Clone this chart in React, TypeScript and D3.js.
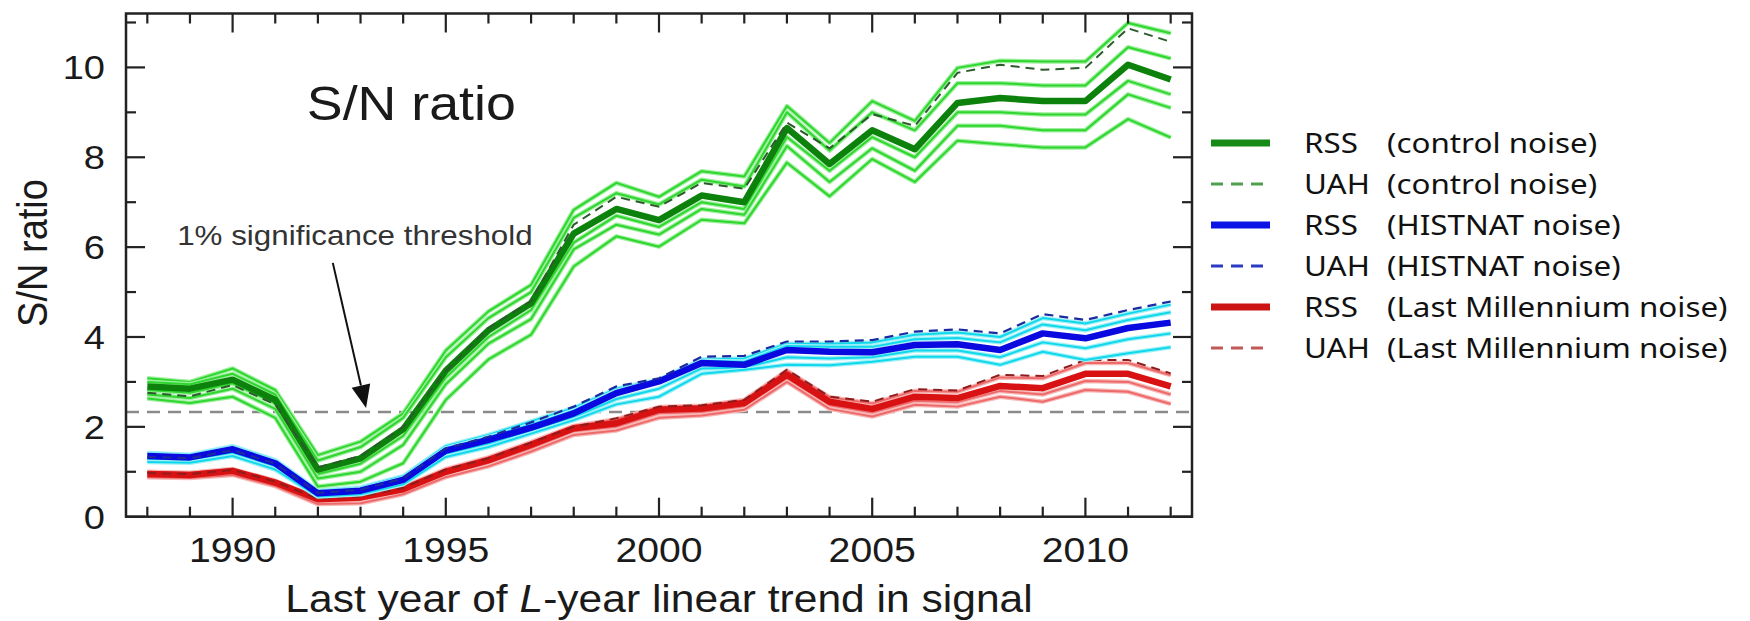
import React from "react";
import * as d3 from "d3";

// S/N ratio vs last year of L-year trend
const years = [1988, 1989, 1990, 1991, 1992, 1993, 1994, 1995, 1996, 1997, 1998, 1999, 2000,
  2001, 2002, 2003, 2004, 2005, 2006, 2007, 2008, 2009, 2010, 2011, 2012];

// control noise
const greenRSS = [2.90, 2.85, 3.05, 2.60, 1.05, 1.30, 1.95, 3.25, 4.15, 4.75, 6.30, 6.85, 6.60, 7.15, 7.00, 8.65, 7.85, 8.60, 8.18, 9.21, 9.32, 9.25, 9.25, 10.06, 9.73];
const greenUAH = [2.76, 2.68, 2.93, 2.50, 1.10, 1.35, 2.00, 3.25, 4.20, 4.80, 6.50, 7.12, 6.90, 7.43, 7.30, 8.77, 8.20, 8.96, 8.70, 9.88, 10.06, 9.95, 9.99, 10.87, 10.57];
const greenEnsA = [3.08, 3.00, 3.30, 2.82, 1.37, 1.67, 2.30, 3.70, 4.57, 5.16, 6.83, 7.43, 7.12, 7.69, 7.57, 9.14, 8.32, 9.25, 8.81, 9.99, 10.15, 10.13, 10.13, 10.99, 10.76];
const greenEnsB = [3.00, 2.95, 3.18, 2.72, 1.25, 1.55, 2.20, 3.55, 4.42, 5.00, 6.65, 7.20, 6.95, 7.50, 7.35, 9.00, 8.15, 9.00, 8.60, 9.65, 9.65, 9.60, 9.60, 10.45, 10.20];
const greenEnsC = [2.82, 2.76, 2.97, 2.52, 0.95, 1.18, 1.80, 3.10, 4.00, 4.60, 6.10, 6.70, 6.45, 7.00, 6.85, 8.45, 7.70, 8.45, 8.00, 9.00, 9.00, 8.95, 8.95, 9.70, 9.40];
const greenEnsD = [2.72, 2.64, 2.85, 2.40, 0.85, 1.00, 1.60, 2.95, 3.85, 4.40, 5.95, 6.50, 6.28, 6.85, 6.72, 8.25, 7.45, 8.20, 7.70, 8.70, 8.70, 8.60, 8.60, 9.40, 9.10];
const greenEnsE = [2.63, 2.53, 2.67, 2.20, 0.67, 0.78, 1.19, 2.60, 3.50, 4.05, 5.57, 6.24, 6.01, 6.61, 6.53, 7.88, 7.13, 7.96, 7.45, 8.37, 8.29, 8.22, 8.22, 8.85, 8.44];

// HISTNAT noise
const blueRSS = [1.35, 1.32, 1.50, 1.19, 0.52, 0.58, 0.82, 1.47, 1.71, 1.98, 2.30, 2.75, 3.01, 3.42, 3.38, 3.71, 3.67, 3.66, 3.82, 3.84, 3.71, 4.08, 3.97, 4.20, 4.32];
const blueUAH = [1.33, 1.30, 1.48, 1.18, 0.53, 0.60, 0.85, 1.52, 1.78, 2.10, 2.45, 2.90, 3.08, 3.56, 3.58, 3.90, 3.90, 3.93, 4.12, 4.17, 4.08, 4.51, 4.38, 4.60, 4.79];
const cyanEnsA = [1.42, 1.38, 1.57, 1.26, 0.58, 0.65, 0.90, 1.57, 1.82, 2.12, 2.42, 2.85, 3.05, 3.50, 3.52, 3.85, 3.85, 3.88, 4.05, 4.10, 4.00, 4.42, 4.30, 4.52, 4.72];
const cyanEnsB = [1.39, 1.35, 1.54, 1.23, 0.55, 0.62, 0.86, 1.52, 1.77, 2.05, 2.36, 2.80, 3.03, 3.47, 3.45, 3.80, 3.78, 3.78, 3.95, 3.98, 3.88, 4.28, 4.15, 4.38, 4.55];
const cyanEnsC = [1.28, 1.26, 1.42, 1.12, 0.48, 0.54, 0.77, 1.40, 1.63, 1.92, 2.22, 2.62, 2.85, 3.30, 3.32, 3.55, 3.52, 3.55, 3.70, 3.70, 3.55, 3.88, 3.75, 3.95, 4.08];
const cyanEnsD = [1.22, 1.20, 1.35, 1.05, 0.45, 0.50, 0.72, 1.33, 1.55, 1.85, 2.15, 2.50, 2.67, 3.18, 3.27, 3.38, 3.37, 3.45, 3.56, 3.56, 3.38, 3.67, 3.49, 3.64, 3.77];

// Last Millennium noise
const redRSS = [0.95, 0.93, 1.02, 0.76, 0.39, 0.43, 0.61, 1.00, 1.26, 1.60, 1.97, 2.08, 2.38, 2.41, 2.53, 3.16, 2.56, 2.40, 2.67, 2.64, 2.91, 2.86, 3.18, 3.18, 2.90];
const redUAH = [0.97, 0.95, 1.04, 0.78, 0.40, 0.45, 0.64, 1.05, 1.30, 1.65, 2.00, 2.19, 2.45, 2.48, 2.60, 3.27, 2.67, 2.56, 2.84, 2.81, 3.16, 3.13, 3.49, 3.49, 3.19];
const pinkEnsA = [1.00, 0.98, 1.06, 0.80, 0.42, 0.47, 0.66, 1.06, 1.32, 1.66, 2.02, 2.17, 2.44, 2.47, 2.60, 3.25, 2.66, 2.52, 2.80, 2.78, 3.10, 3.08, 3.42, 3.42, 3.15];
const pinkEnsB = [0.92, 0.90, 0.98, 0.72, 0.33, 0.36, 0.55, 0.94, 1.19, 1.52, 1.90, 2.00, 2.30, 2.33, 2.46, 3.08, 2.48, 2.32, 2.58, 2.55, 2.80, 2.72, 3.02, 3.00, 2.72];
const pinkEnsC = [0.88, 0.86, 0.93, 0.68, 0.28, 0.30, 0.50, 0.88, 1.12, 1.45, 1.82, 1.92, 2.20, 2.25, 2.38, 3.00, 2.40, 2.23, 2.49, 2.45, 2.67, 2.56, 2.82, 2.78, 2.51];

const threshold = 2.33;
const legendSource = ["RSS", "UAH", "RSS", "UAH", "RSS", "UAH"];
const legendNoise = ["(control noise)", "(control noise)", "(HISTNAT noise)", "(HISTNAT noise)", "(Last Millennium noise)", "(Last Millennium noise)"];
const legendColors = ["#168a16", "#4f9f4f", "#0a12e6", "#2b3bc4", "#cc1414", "#c25858"];
const legendDashed = [false, true, false, true, false, true];

const SX = 1.12; // figure is slightly stretched horizontally
const FONT = "'Liberation Sans', Arial, sans-serif";
const LEGEND_FONT = "'Noto Sans', 'Open Sans', sans-serif";

function Txt({ x, y, size, anchor = "start", children, fill = "#1a1a1a", rotate = 0, family = FONT }: any) {
  return (
    <text
      transform={`translate(${x},${y}) scale(${SX},1) rotate(${rotate})`}
      fontSize={size}
      fontFamily={family}
      textAnchor={anchor}
      fill={fill}
    >
      {children}
    </text>
  );
}

export default function App() {
  const x = d3.scaleLinear().domain([1987.5, 2012.5]).range([126, 1192]);
  const y = d3.scaleLinear().domain([0, 11.2]).range([516.7, 13.5]);
  const line = d3.line<number>().x((_, i) => x(years[i])).y((d) => y(d));

  const [x0, x1] = x.range();
  const [y0, y1] = y.range();

  const thin = (vals: number[], core: string, halo: string, key: string) => (
    <g key={key}>
      <path d={line(vals) || ""} fill="none" stroke={halo} strokeWidth={4.5} strokeLinejoin="round" />
      <path d={line(vals) || ""} fill="none" stroke={core} strokeWidth={2} strokeLinejoin="round" />
    </g>
  );

  const yTicks = d3.range(0, 12);

  // arrow annotation in data units
  const arrowFrom = [x(1992.35), y(5.65)];
  const arrowTo = [x(1993.13), y(2.42)];
  const ang = Math.atan2(arrowTo[1] - arrowFrom[1], arrowTo[0] - arrowFrom[0]);
  const headL = 23, headW = 9.5;
  const bx = arrowTo[0] - headL * Math.cos(ang), by = arrowTo[1] - headL * Math.sin(ang);
  const head = [
    [arrowTo[0], arrowTo[1]],
    [bx + headW * Math.sin(ang), by - headW * Math.cos(ang)],
    [bx - headW * Math.sin(ang), by + headW * Math.cos(ang)],
  ];

  return (
    <div style={{ position: "absolute", left: 0, top: 0 }}>
      <svg width={1750} height={621} style={{ display: "block", background: "#fff" }}>
        {/* threshold */}
        <line x1={x0} x2={x1} y1={y(threshold)} y2={y(threshold)} stroke="#8a8a8a" strokeWidth={2.5} strokeDasharray="13,8" />

        {/* Last Millennium ensemble */}
        {[pinkEnsA, pinkEnsB, pinkEnsC].map((s, i) => thin(s, "#ee6a6a", "#f7b8b8", "p" + i))}
        <path d={line(redRSS) || ""} fill="none" stroke="#d81212" strokeWidth={6.5} strokeLinejoin="round" />
        <path d={line(redUAH) || ""} fill="none" stroke="#8e1c1c" strokeWidth={2} strokeDasharray="9,6" />

        {/* HISTNAT ensemble */}
        {[cyanEnsA, cyanEnsB, cyanEnsC, cyanEnsD].map((s, i) => thin(s, "#10d8ec", "#9ff0f6", "c" + i))}
        <path d={line(blueRSS) || ""} fill="none" stroke="#0a0ae0" strokeWidth={6.5} strokeLinejoin="round" />
        <path d={line(blueUAH) || ""} fill="none" stroke="#1c2aa0" strokeWidth={2.2} strokeDasharray="9,6" />

        {/* control ensemble */}
        {[greenEnsA, greenEnsB, greenEnsC, greenEnsD, greenEnsE].map((s, i) => thin(s, "#2ed62e", "#9cef9c", "g" + i))}
        <path d={line(greenRSS) || ""} fill="none" stroke="#0c820c" strokeWidth={6.5} strokeLinejoin="round" />
        <path d={line(greenUAH) || ""} fill="none" stroke="#2c5a2c" strokeWidth={2} strokeDasharray="9,6" />

        {/* frame and ticks */}
        <rect x={x0} y={y1} width={x1 - x0} height={y0 - y1} fill="none" stroke="#222" strokeWidth={2.5} />
        {years.map((yr) => {
          const len = yr % 5 === 0 ? 19 : 10;
          return (
            <g key={"xt" + yr} stroke="#222" strokeWidth={2.2}>
              <line x1={x(yr)} x2={x(yr)} y1={y0} y2={y0 - len} />
              <line x1={x(yr)} x2={x(yr)} y1={y1} y2={y1 + len} />
            </g>
          );
        })}
        {yTicks.map((v) => {
          const len = v % 2 === 0 ? 19 : 10;
          return (
            <g key={"yt" + v} stroke="#222" strokeWidth={2.2}>
              <line x1={x0} x2={x0 + len} y1={y(v)} y2={y(v)} />
              <line x1={x1} x2={x1 - len} y1={y(v)} y2={y(v)} />
            </g>
          );
        })}

        {/* tick labels */}
        {years.filter((yr) => yr % 5 === 0).map((yr) => (
          <Txt key={"xl" + yr} x={x(yr)} y={y0 + 45} size={35} anchor="middle">{yr}</Txt>
        ))}
        {yTicks.filter((v) => v % 2 === 0).map((v) => (
          <Txt key={"yl" + v} x={x0 - 21} y={y(v) + 12} size={34} anchor="end">{v}</Txt>
        ))}

        {/* axis titles */}
        <Txt x={(x0 + x1) / 2} y={612} size={38} anchor="middle">
          Last year of <tspan fontStyle="italic">L</tspan>-year linear trend in signal
        </Txt>
        <Txt x={47} y={253} size={38} anchor="middle" rotate={-90}>S/N ratio</Txt>

        {/* in-plot labels */}
        <Txt x={x(1991.74)} y={y(8.83)} size={48}>S/N ratio</Txt>
        <Txt x={x(1988.7)} y={y(6.05)} size={28} fill="#333">1% significance threshold</Txt>
        <line x1={arrowFrom[0]} y1={arrowFrom[1]} x2={bx} y2={by} stroke="#111" strokeWidth={2} />
        <polygon points={head.map((p) => p.join(",")).join(" ")} fill="#111" />

        {/* legend */}
        {legendSource.map((src, i) => {
          const ly = 143 + i * 41;
          return (
            <g key={"lg" + i}>
              <line
                x1={1211} x2={1270} y1={ly} y2={ly}
                stroke={legendColors[i]}
                strokeWidth={legendDashed[i] ? 3 : 7}
                strokeDasharray={legendDashed[i] ? "12,8" : undefined}
              />
              <Txt x={1304} y={ly + 10} size={28} family={LEGEND_FONT} fill="#111">{src}</Txt>
              <Txt x={1387} y={ly + 10} size={28} family={LEGEND_FONT} fill="#111">{legendNoise[i]}</Txt>
            </g>
          );
        })}
      </svg>
    </div>
  );
}
